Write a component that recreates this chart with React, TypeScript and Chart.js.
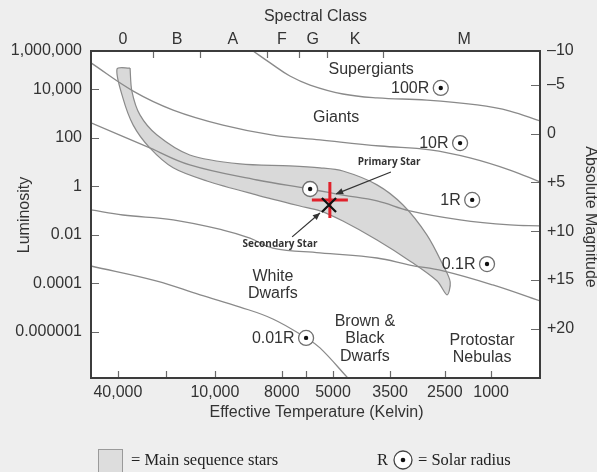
import React, { useEffect, useRef } from "react";
import { Chart, registerables } from "chart.js";

Chart.register(...registerables);

type Pt = [number, number];

// x: relative position along the temperature axis (0 = left edge, 100 = right edge)
// y: log10 of luminosity (solar units)

// ---- axis ticks ----
const tempTickPos = [6.0, 16.7, 27.6, 42.5, 47.9, 53.9, 66.6, 78.8, 89.1];
const tempTickLabels = ["40,000", "", "10,000", "8000", "", "5000", "3500", "2500", "1000"];
const spectralLabelPos = [7.1, 19.2, 31.6, 42.5, 49.4, 58.8, 83.1];
const spectralLabels = ["0", "B", "A", "F", "G", "K", "M"];
const spectralBoundaryPos = [13.8, 24.3, 39.2, 46.3, 52.6, 65.0];
const lumTickPos = [5.57, 4, 2, 0, -2, -4, -6];
const lumTickLabels = ["1,000,000", "10,000", "100", "1", "0.01", "0.0001", "0.000001"];
const magTickPos = [-8.46, -5, 0, 5, 10, 15, 20];
const magTickLabels = ["\u201310", "\u20135", "0", "+5", "+10", "+15", "+20"];

// ---- constant-radius lines ----
const line100R: Pt[] = [[36.1, 5.57], [39.9, 5.08], [44.3, 4.54], [48.8, 4.17], [56.1, 3.8], [63.7, 3.64], [74.8, 3.55], [86.0, 3.35], [93.3, 3.1], [100, 2.69]];
const line10R: Pt[] = [[0, 5.08], [9.4, 3.92], [18.3, 3.14], [29.4, 2.52], [40.5, 2.11], [51.0, 1.91], [64.4, 1.66], [75.5, 1.5], [84.4, 1.17], [93.3, 0.67], [100, 0.18]];
const line1R: Pt[] = [[0, 2.61], [13.1, 1.58], [22.0, 0.88], [37.0, 0.26], [48.8, -0.11], [56.1, -0.36], [63.7, -0.6], [71.0, -1.01], [82.2, -1.38], [93.3, -1.59], [100, -1.63]];
const line01R: Pt[] = [[0, -0.97], [7.1, -1.18], [18.3, -1.38], [29.4, -1.8], [35.4, -2.13], [40.5, -2.54], [51.0, -2.74], [63.7, -2.95], [71.0, -3.24], [78.4, -3.48], [89.5, -4.06], [100, -4.72]];
const line001R: Pt[] = [[0, -3.28], [14.7, -3.9], [24.3, -4.47], [33.2, -4.97], [40.5, -5.46], [47.9, -6.24], [51.0, -6.65], [57.2, -7.89]];

// ---- main sequence band ----
const mainSeqUpper: Pt[] = [[8.7, 4.87], [9.1, 3.92], [10.9, 2.94], [14.7, 2.11], [22.0, 1.29], [33.2, 0.92], [44.3, 0.84], [51.0, 0.76], [56.1, 0.63], [63.7, 0.06], [69.5, -0.77], [74.8, -2.0], [78.4, -3.24], [80.0, -3.94]];
const mainSeqLower: Pt[] = [[5.8, 4.83], [7.1, 3.64], [9.4, 2.52], [13.1, 1.58], [18.3, 0.76], [25.8, 0.22], [37.0, -0.36], [46.5, -0.81], [51.0, -1.01], [56.1, -1.43], [63.7, -2.21], [71.0, -3.07], [77.1, -3.9], [79.3, -4.47]];

// ---- solar radius markers ----
const radiusMarkers: Pt[] = [[77.9, 4.05], [82.2, 1.78], [84.9, -0.56], [88.2, -3.2], [47.9, -6.24], [48.8, -0.11]];
const radiusLabels = ["100R", "10R", "1R", "0.1R", "0.01R", ""];

// ---- binary star ----
const primaryStar: Pt[] = [[53.2, -0.56]];
const secondaryStar: Pt[] = [[53.0, -0.77]];

// ---- annotations (data coordinates) ----
const regionLabels = [
  { lines: ["Supergiants"], x: 62.4, y: 4.79 },
  { lines: ["Giants"], x: 54.6, y: 2.81 },
  { lines: ["White", "Dwarfs"], x: 40.5, y: -4.06 },
  { lines: ["Brown &", "Black", "Dwarfs"], x: 61.0, y: -6.28 },
  { lines: ["Protostar", "Nebulas"], x: 87.1, y: -6.69 },
];
const starNotes = [
  { text: "Primary Star", x: 66.4, y: 1.0, from: [66.8, 0.59] as Pt, to: [54.6, -0.31] as Pt },
  { text: "Secondary Star", x: 42.1, y: -2.37, from: [44.8, -2.08] as Pt, to: [51.0, -1.1] as Pt },
];

const SANS = "'Liberation Sans', Arial, sans-serif";
const SERIF = "'Liberation Serif', 'Times New Roman', serif";
const TEXT = "#333333";
const LINE = "#8a8a8a";

const toXY = (pts: Pt[]) => pts.map(([x, y]) => ({ x, y }));

const curve = (pts: Pt[]) => ({
  data: toXY(pts),
  showLine: true,
  pointRadius: 0,
  borderColor: LINE,
  borderWidth: 1.3,
  tension: 0.4,
  fill: false,
  order: 5,
});

const bandPolygon: Pt[] = [...mainSeqUpper, ...[...mainSeqLower].reverse(), mainSeqUpper[0]];

function arrow(ctx: CanvasRenderingContext2D, x1: number, y1: number, x2: number, y2: number) {
  ctx.beginPath();
  ctx.moveTo(x1, y1);
  ctx.lineTo(x2, y2);
  ctx.stroke();
  const a = Math.atan2(y2 - y1, x2 - x1);
  const L = 7, W = 3.2;
  const c = Math.cos(a), s = Math.sin(a);
  ctx.beginPath();
  ctx.moveTo(x2, y2);
  ctx.lineTo(x2 - L * c + W * s, y2 - L * s - W * c);
  ctx.lineTo(x2 - L * c - W * s, y2 - L * s + W * c);
  ctx.closePath();
  ctx.fill();
}

const hrPlugin = {
  id: "hrDecor",
  beforeDraw(chart: any) {
    const { ctx, chartArea: a, width, height } = chart;
    ctx.save();
    ctx.fillStyle = "#eeeeee";
    ctx.fillRect(0, 0, width, height);
    ctx.fillStyle = "#ffffff";
    ctx.fillRect(a.left, a.top, a.right - a.left, a.bottom - a.top);
    ctx.restore();
  },
  afterDatasetsDraw(chart: any) {
    const { ctx } = chart;
    const xs = chart.scales.x, ys = chart.scales.y;
    const X = (v: number) => xs.getPixelForValue(v);
    const Y = (v: number) => ys.getPixelForValue(v);
    ctx.save();
    ctx.fillStyle = TEXT;
    ctx.textBaseline = "middle";
    ctx.font = `16px ${SANS}`;
    // region labels
    ctx.textAlign = "center";
    regionLabels.forEach((r) => {
      const lh = 17.5;
      const cy = Y(r.y);
      r.lines.forEach((t, i) => {
        ctx.fillText(t, X(r.x), cy - ((r.lines.length - 1) * lh) / 2 + i * lh);
      });
    });
    // radius labels
    ctx.textAlign = "right";
    radiusMarkers.forEach(([x, y], i) => {
      if (radiusLabels[i]) ctx.fillText(radiusLabels[i], X(x) - 11.5, Y(y) + 0.5);
    });
    // star notes and arrows
    ctx.font = `bold 10px 'Open Sans', ${SANS}`;
    ctx.textAlign = "center";
    ctx.strokeStyle = "#333333";
    ctx.lineWidth = 1.2;
    starNotes.forEach((n) => {
      ctx.fillStyle = "#333333";
      ctx.fillText(n.text, X(n.x), Y(n.y));
      arrow(ctx, X(n.from[0]), Y(n.from[1]), X(n.to[0]), Y(n.to[1]));
    });
    ctx.restore();
  },
  afterDraw(chart: any) {
    const { ctx, chartArea: a } = chart;
    const xs = chart.scales.x, x2 = chart.scales.x2, ys = chart.scales.y, y2 = chart.scales.y2;
    ctx.save();
    // inward tick marks
    ctx.strokeStyle = "#6a6a6a";
    ctx.lineWidth = 1.2;
    ctx.beginPath();
    lumTickPos.forEach((v) => {
      const y = Math.round(ys.getPixelForValue(v)) + 0.5;
      ctx.moveTo(a.left, y);
      ctx.lineTo(a.left + 8, y);
    });
    magTickPos.forEach((v) => {
      const y = Math.round(y2.getPixelForValue(v)) + 0.5;
      ctx.moveTo(a.right, y);
      ctx.lineTo(a.right - 9, y);
    });
    tempTickPos.forEach((v) => {
      const x = Math.round(xs.getPixelForValue(v)) + 0.5;
      ctx.moveTo(x, a.bottom);
      ctx.lineTo(x, a.bottom - 7);
    });
    spectralBoundaryPos.forEach((v) => {
      const x = Math.round(x2.getPixelForValue(v)) + 0.5;
      ctx.moveTo(x, a.top);
      ctx.lineTo(x, a.top + 7);
    });
    ctx.stroke();
    // plot frame
    ctx.strokeStyle = "#3c3c3c";
    ctx.lineWidth = 2;
    ctx.strokeRect(a.left, a.top, a.right - a.left, a.bottom - a.top);

    // axis titles
    ctx.fillStyle = TEXT;
    ctx.font = `16px ${SANS}`;
    ctx.textAlign = "center";
    ctx.textBaseline = "middle";
    const cx = (a.left + a.right) / 2;
    ctx.fillText("Spectral Class", cx, 17);
    ctx.fillText("Effective Temperature (Kelvin)", cx + 1, 413);
    ctx.save();
    ctx.translate(25, 215);
    ctx.rotate(-Math.PI / 2);
    ctx.fillText("Luminosity", 0, 0);
    ctx.restore();
    ctx.save();
    ctx.translate(590, 217);
    ctx.rotate(Math.PI / 2);
    ctx.fillText("Absolute Magnitude", 0, 0);
    ctx.restore();

    // legend
    ctx.fillStyle = "#dddddd";
    ctx.strokeStyle = "#9a9a9a";
    ctx.lineWidth = 1;
    ctx.fillRect(98.5, 449.5, 24, 26);
    ctx.strokeRect(98.5, 449.5, 24, 26);
    ctx.fillStyle = "#222222";
    ctx.font = `16.5px ${SERIF}`;
    ctx.textAlign = "left";
    ctx.fillText("= Main sequence stars", 131, 461);
    ctx.fillText("R", 377, 461);
    ctx.beginPath();
    ctx.arc(403, 460, 9, 0, Math.PI * 2);
    ctx.fillStyle = "#ffffff";
    ctx.fill();
    ctx.strokeStyle = "#444444";
    ctx.lineWidth = 1.3;
    ctx.stroke();
    ctx.beginPath();
    ctx.arc(403, 460, 2.3, 0, Math.PI * 2);
    ctx.fillStyle = "#111111";
    ctx.fill();
    ctx.fillStyle = "#222222";
    ctx.fillText("= Solar radius", 418, 461);
    ctx.restore();
  },
};

export default function App() {
  const ref = useRef<HTMLCanvasElement>(null);

  useEffect(() => {
    const canvas = ref.current;
    if (!canvas) return;
    const tickFont = { family: SANS, size: 16 };
    const hiddenGrid = { display: false, drawTicks: false };
    const chart = new Chart(canvas, {
      type: "scatter",
      data: {
        datasets: [
          {
            data: toXY(bandPolygon),
            showLine: true,
            pointRadius: 0,
            borderColor: LINE,
            borderWidth: 1.2,
            backgroundColor: "#d9d9d9",
            fill: "shape",
            tension: 0.3,
            order: 10,
          } as any,
          curve(line100R),
          curve(line10R),
          curve(line1R),
          curve(line01R),
          curve(line001R),
          {
            data: toXY(radiusMarkers),
            pointRadius: 7.5,
            pointBackgroundColor: "#ffffff",
            pointBorderColor: "#6e6e6e",
            pointBorderWidth: 1.3,
            order: 3,
          },
          {
            data: toXY(radiusMarkers),
            pointRadius: 2.2,
            pointBackgroundColor: "#111111",
            pointBorderWidth: 0,
            order: 2,
          },
          {
            data: toXY(primaryStar),
            pointStyle: "cross",
            pointRadius: 18,
            pointBorderColor: "#e0212b",
            pointBorderWidth: 3,
            order: 1,
          },
          {
            data: toXY(secondaryStar),
            pointStyle: "crossRot",
            pointRadius: 10,
            pointBorderColor: "#111111",
            pointBorderWidth: 2.2,
            order: 0,
          },
        ] as any,
      },
      options: {
        animation: false,
        responsive: false,
        maintainAspectRatio: false,
        devicePixelRatio: 1,
        events: [],
        layout: { padding: 0 },
        plugins: {
          legend: { display: false },
          tooltip: { enabled: false },
          title: { display: false },
        },
        scales: {
          x: {
            type: "linear",
            position: "bottom",
            min: 0,
            max: 100,
            grid: hiddenGrid,
            border: { display: false },
            afterBuildTicks: (s: any) => {
              s.ticks = tempTickPos.map((v) => ({ value: v }));
            },
            afterFit: (s: any) => {
              s.height = 94;
            },
            ticks: {
              autoSkip: false,
              maxRotation: 0,
              minRotation: 0,
              padding: 5,
              font: tickFont,
              color: TEXT,
              callback: (_v: any, i: number) => tempTickLabels[i],
            },
          },
          x2: {
            type: "linear",
            position: "top",
            min: 0,
            max: 100,
            grid: hiddenGrid,
            border: { display: false },
            afterBuildTicks: (s: any) => {
              s.ticks = spectralLabelPos.map((v) => ({ value: v }));
            },
            afterFit: (s: any) => {
              s.height = 51;
            },
            ticks: {
              autoSkip: false,
              maxRotation: 0,
              minRotation: 0,
              padding: 2,
              font: tickFont,
              color: TEXT,
              callback: (_v: any, i: number) => spectralLabels[i],
            },
          },
          y: {
            type: "linear",
            position: "left",
            min: -7.89,
            max: 5.57,
            grid: hiddenGrid,
            border: { display: false },
            afterBuildTicks: (s: any) => {
              s.ticks = lumTickPos.map((v) => ({ value: v }));
            },
            afterFit: (s: any) => {
              s.width = 91;
            },
            ticks: {
              autoSkip: false,
              padding: 9,
              font: tickFont,
              color: TEXT,
              callback: (_v: any, i: number) => lumTickLabels[i],
            },
          },
          y2: {
            type: "linear",
            position: "right",
            min: -8.46,
            max: 25.04,
            reverse: true,
            grid: hiddenGrid,
            border: { display: false },
            afterBuildTicks: (s: any) => {
              s.ticks = magTickPos.map((v) => ({ value: v }));
            },
            afterFit: (s: any) => {
              s.width = 57;
            },
            ticks: {
              autoSkip: false,
              padding: 7,
              font: tickFont,
              color: TEXT,
              callback: (_v: any, i: number) => magTickLabels[i],
            },
          },
        },
      } as any,
      plugins: [hrPlugin],
    });
    return () => chart.destroy();
  }, []);

  return (
    <div style={{ position: "absolute", left: 0, top: 0, width: 597, height: 472, background: "#eeeeee" }}>
      <canvas ref={ref} width={597} height={472} style={{ display: "block", width: 597, height: 472 }} />
    </div>
  );
}
